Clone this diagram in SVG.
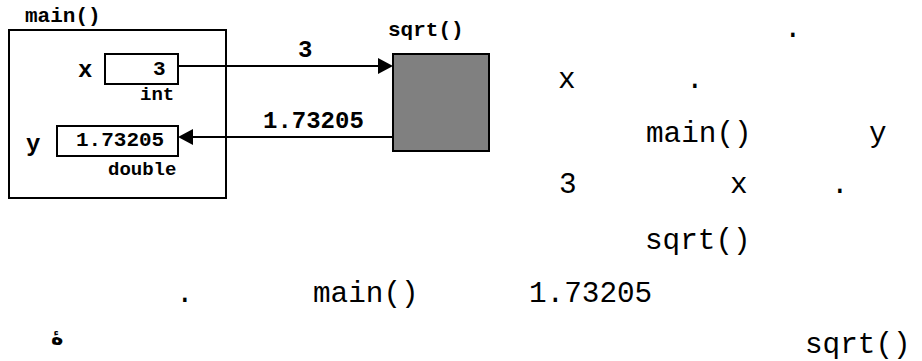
<svg xmlns="http://www.w3.org/2000/svg" width="922" height="361" viewBox="0 0 922 361">
<defs>
<style>
.b{font-family:"Liberation Mono","Courier New",monospace;font-weight:bold;fill:#000}
.r{font-family:"Liberation Mono","Courier New",monospace;font-size:29.33px;fill:#000}
.box{fill:#fff;stroke:#000;stroke-width:2}
.ln{stroke:#000;stroke-width:2;fill:none}
</style>
</defs>
<rect width="922" height="361" fill="#fff"/>
<g id="main">
<rect class="box" x="9" y="30" width="217" height="168"/>
<text class="b" x="25" y="22" font-size="21">main()</text>
</g>
<g id="var-x">
<text class="b" x="78" y="77" font-size="24">x</text>
<rect class="box" x="105" y="54" width="73" height="30"/>
<text class="b" x="153" y="75" font-size="21">3</text>
<text class="b" x="140" y="100" font-size="19">int</text>
</g>
<g id="var-y">
<text class="b" x="26" y="151" font-size="24">y</text>
<rect class="box" x="57" y="126" width="121" height="30"/>
<text class="b" x="76" y="146" font-size="21">1.73205</text>
<text class="b" x="108" y="175" font-size="19">double</text>
</g>
<g id="sqrt">
<rect x="393" y="54" width="96" height="97" fill="#808080" stroke="#000" stroke-width="2"/>
<text class="b" x="388" y="36" font-size="21">sqrt()</text>
</g>
<g id="connectors">
<line class="ln" x1="178" y1="66" x2="380" y2="66"/>
<polygon points="378,58 393,66 378,74" fill="#000"/>
<text class="b" x="298" y="57" font-size="24">3</text>
<line class="ln" x1="393" y1="137" x2="191" y2="137"/>
<polygon points="193,129 178,137 193,145" fill="#000"/>
<text class="b" x="263" y="128" font-size="24">1.73205</text>
</g>
<g id="body-text">
<text class="r" x="784" y="37">.</text>
<text class="r" x="558" y="88">x</text>
<text class="r" x="686" y="88">.</text>
<text class="r" x="646" y="142">main()</text>
<text class="r" x="869" y="142">y</text>
<text class="r" x="559" y="193">3</text>
<text class="r" x="730" y="193">x</text>
<text class="r" x="831" y="193">.</text>
<text class="r" x="645" y="249">sqrt()</text>
<text class="r" x="176" y="302">.</text>
<text class="r" x="313" y="302">main()</text>
<text class="r" x="529" y="302">1.73205</text>
<text class="r" x="805" y="353">sqrt()</text>
<text x="51" y="344" font-family="'DejaVu Sans',sans-serif" font-weight="bold" font-size="21">ۀ</text>
</g>
</svg>
